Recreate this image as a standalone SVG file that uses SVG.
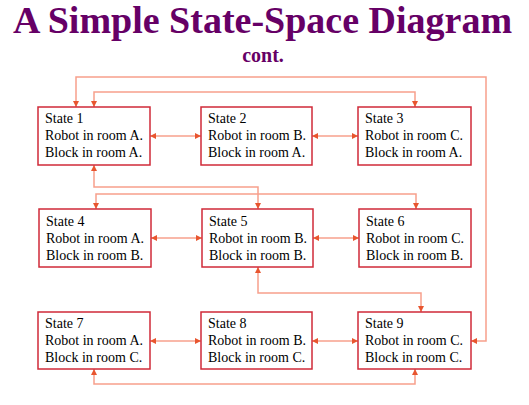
<svg xmlns="http://www.w3.org/2000/svg" width="529" height="405" viewBox="0 0 529 405">
<defs>
<marker id="ah" viewBox="0 0 6 6" refX="6" refY="3" markerWidth="6" markerHeight="6" markerUnits="userSpaceOnUse" orient="auto-start-reverse">
<path d="M0,0 L6,3 L0,6 z" fill="#e8552f"/>
</marker>
</defs>
<style>
.title{font-family:"Liberation Serif","Times New Roman",serif;font-weight:bold;fill:#660066;text-anchor:middle}
.box{fill:#ffffff;stroke:#d02a38;stroke-width:1.5}
.lbl{font-family:"Liberation Serif","Times New Roman",serif;font-size:14px;fill:#000000}
.c{fill:none;stroke:#f7a08c;stroke-width:1.5;marker-start:url(#ah);marker-end:url(#ah)}
</style>
<rect width="529" height="405" fill="#ffffff"/>
<text class="title" x="262.5" y="33" font-size="38">A Simple State-Space Diagram</text>
<text class="title" x="263" y="62" font-size="20">cont.</text>
<g id="connectors">
<path class="c" d="M76,107 V77 H486 V341 H471"/>
<path class="c" d="M94,107 V92 H415 V107"/>
<path class="c" d="M150,136 H201"/>
<path class="c" d="M312,136 H358"/>
<path class="c" d="M94,165 V187 H258 V209"/>
<path class="c" d="M96,209 V194 H416 V209"/>
<path class="c" d="M151,238 H202"/>
<path class="c" d="M313,238 H359"/>
<path class="c" d="M258,267 V293 H421 V312"/>
<path class="c" d="M150,341 H201"/>
<path class="c" d="M312,341 H358"/>
<path class="c" d="M94,369 V384 H415 V369"/>
</g>
<g id="state1"><rect class="box" x="38" y="107" width="112" height="58"/><text class="lbl" x="45" y="123">State 1</text><text class="lbl" x="45" y="140">Robot in room A.</text><text class="lbl" x="45" y="157">Block in room A.</text></g>
<g id="state2"><rect class="box" x="201" y="107" width="111" height="58"/><text class="lbl" x="208" y="123">State 2</text><text class="lbl" x="208" y="140">Robot in room B.</text><text class="lbl" x="208" y="157">Block in room A.</text></g>
<g id="state3"><rect class="box" x="358" y="107" width="113" height="58"/><text class="lbl" x="365" y="123">State 3</text><text class="lbl" x="365" y="140">Robot in room C.</text><text class="lbl" x="365" y="157">Block in room A.</text></g>
<g id="state4"><rect class="box" x="39" y="209" width="112" height="58"/><text class="lbl" x="46" y="226">State 4</text><text class="lbl" x="46" y="243">Robot in room A.</text><text class="lbl" x="46" y="260">Block in room B.</text></g>
<g id="state5"><rect class="box" x="202" y="209" width="111" height="58"/><text class="lbl" x="209" y="226">State 5</text><text class="lbl" x="209" y="243">Robot in room B.</text><text class="lbl" x="209" y="260">Block in room B.</text></g>
<g id="state6"><rect class="box" x="359" y="209" width="112" height="58"/><text class="lbl" x="366" y="226">State 6</text><text class="lbl" x="366" y="243">Robot in room C.</text><text class="lbl" x="366" y="260">Block in room B.</text></g>
<g id="state7"><rect class="box" x="38" y="312" width="112" height="57"/><text class="lbl" x="45" y="328">State 7</text><text class="lbl" x="45" y="345">Robot in room A.</text><text class="lbl" x="45" y="362">Block in room C.</text></g>
<g id="state8"><rect class="box" x="201" y="312" width="111" height="57"/><text class="lbl" x="208" y="328">State 8</text><text class="lbl" x="208" y="345">Robot in room B.</text><text class="lbl" x="208" y="362">Block in room C.</text></g>
<g id="state9"><rect class="box" x="358" y="312" width="113" height="57"/><text class="lbl" x="365" y="328">State 9</text><text class="lbl" x="365" y="345">Robot in room C.</text><text class="lbl" x="365" y="362">Block in room C.</text></g>
</svg>
